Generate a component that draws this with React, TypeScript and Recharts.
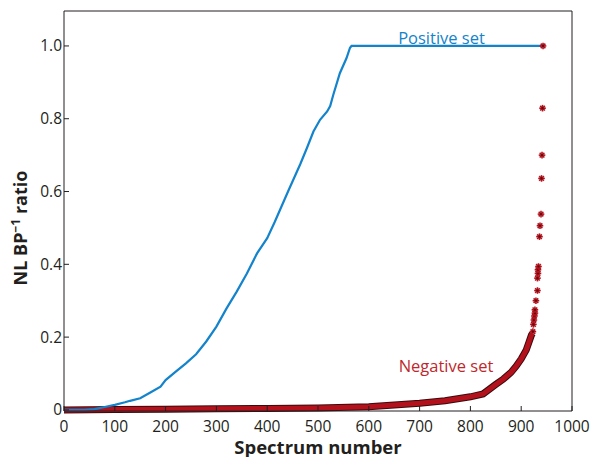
import React from 'react';
import { ComposedChart, Line, Scatter, XAxis, YAxis } from 'recharts';

// positive set
const posX = [0, 20, 40, 60, 70, 80, 100, 120, 130, 150, 170, 190, 200, 220, 240, 260, 280, 300, 320, 340, 360, 380, 400, 415, 441, 465, 478, 491, 504, 518, 524, 530, 543, 556, 563, 566, 940];
const posY = [0, 0, 0, 0.002, 0.005, 0.008, 0.014, 0.021, 0.025, 0.032, 0.048, 0.064, 0.082, 0.105, 0.128, 0.153, 0.188, 0.229, 0.279, 0.325, 0.375, 0.43, 0.472, 0.517, 0.6, 0.675, 0.719, 0.765, 0.797, 0.82, 0.835, 0.865, 0.925, 0.966, 0.995, 1.0, 1.0];

// negative set, dense band
const negX = [0, 100, 200, 300, 400, 500, 600, 700, 750, 800, 825, 850, 865, 880, 890, 900, 910, 915, 920, 922];
const negY = [0, 0.001, 0.002, 0.003, 0.004, 0.005, 0.009, 0.018, 0.025, 0.036, 0.044, 0.07, 0.085, 0.103, 0.12, 0.14, 0.165, 0.185, 0.205, 0.21];

// negative set, scattered high values
const outX = [923, 924, 925, 926, 927, 927, 929, 932, 932, 933, 933, 934, 936, 937, 939, 940, 941, 942, 943];
const outY = [0.215, 0.235, 0.247, 0.258, 0.266, 0.275, 0.3, 0.328, 0.362, 0.375, 0.385, 0.394, 0.476, 0.506, 0.538, 0.636, 0.7, 0.829, 1.0];

const xTicks = [0, 100, 200, 300, 400, 500, 600, 700, 800, 900, 1000];
const yTicks = [0, 0.2, 0.4, 0.6, 0.8, 1.0];

const positive = posX.map((x, i) => ({ x, y: posY[i] }));
const negative = negX.map((x, i) => ({ x, y: negY[i] }));
const outliers = outX.map((x, i) => ({ x, y: outY[i] }));

const AXIS = '#231f20';
const BLUE = '#1383cc';
const RED = '#b3121d';
const FONT = '"Open Sans", sans-serif';

const Star = (props: any) => {
  const { cx, cy } = props;
  if (cx == null || cy == null) return null;
  const r = 3.3;
  return (
    <g>
      {[0, 45, 90, 135].map((a) => {
        const dx = r * Math.cos((a * Math.PI) / 180);
        const dy = r * Math.sin((a * Math.PI) / 180);
        return (
          <line key={a} x1={cx - dx} y1={cy - dy} x2={cx + dx} y2={cy + dy} stroke={RED} strokeWidth={1.6} />
        );
      })}
      <circle cx={cx} cy={cy} r={1.1} fill="#5a0a0e" />
    </g>
  );
};

const tickStyle = { fill: AXIS, fontSize: 15.5, fontFamily: FONT };

export default function App() {
  return (
    <div style={{ position: 'absolute', left: 0, top: 0, width: 591, height: 457, background: '#fff' }}>
      <ComposedChart width={591} height={457} margin={{ top: 10, right: 18, left: 8, bottom: 0 }}>
        <XAxis
          dataKey="x"
          type="number"
          domain={[0, 1000]}
          ticks={xTicks}
          height={46}
          stroke={AXIS}
          tickSize={-5}
          tickMargin={15}
          tick={tickStyle}
          interval={0}
        />
        <XAxis
          xAxisId="top"
          orientation="top"
          type="number"
          domain={[0, 1000]}
          ticks={xTicks}
          height={1}
          stroke={AXIS}
          tickSize={-5}
          interval={0}
          tickFormatter={() => ''}
        />
        <YAxis
          dataKey="y"
          type="number"
          domain={[-0.003, 1.096]}
          ticks={yTicks}
          width={56}
          stroke={AXIS}
          tickSize={-5}
          tickMargin={7}
          tick={tickStyle}
          interval={0}
          tickFormatter={(v: number) => (v === 0 ? '0' : v.toFixed(1))}
        />
        <YAxis
          yAxisId="right"
          orientation="right"
          type="number"
          domain={[-0.003, 1.096]}
          ticks={yTicks}
          width={1}
          stroke={AXIS}
          tickSize={-5}
          interval={0}
          tickFormatter={() => ''}
        />
        <Line data={negative} dataKey="y" type="linear" dot={false} stroke="#3a0a0c" strokeWidth={7} isAnimationActive={false} />
        <Line data={negative} dataKey="y" type="linear" dot={false} stroke={RED} strokeWidth={5} isAnimationActive={false} />
        <Line data={positive} dataKey="y" type="linear" dot={false} stroke={BLUE} strokeWidth={2.2} isAnimationActive={false} />
        <Scatter data={outliers} dataKey="y" shape={<Star />} isAnimationActive={false} />
      </ComposedChart>
      <svg width={591} height={457} style={{ position: 'absolute', left: 0, top: 0, pointerEvents: 'none' }}>
        <text x={441.5} y={43.5} textAnchor="middle" fill={BLUE} fontSize={16.5} fontFamily={FONT}>
          Positive set
        </text>
        <text x={446} y={371.5} textAnchor="middle" fill="#c0272d" fontSize={16.5} fontFamily={FONT}>
          Negative set
        </text>
        <text x={318} y={453.5} textAnchor="middle" fill={AXIS} fontSize={18.5} fontWeight="bold" fontFamily={FONT}>
          Spectrum number
        </text>
        <text transform="translate(27,228) rotate(-90)" textAnchor="middle" fill={AXIS} fontSize={18} fontWeight="bold" fontFamily={FONT}>
          NL BP<tspan fontSize={12} dy={-7}>−1</tspan>
          <tspan dy={7}> ratio</tspan>
        </text>
      </svg>
    </div>
  );
}
